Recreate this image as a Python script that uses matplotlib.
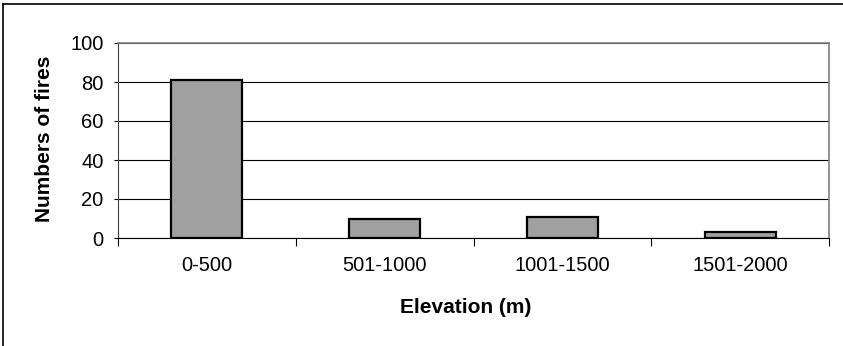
import matplotlib.pyplot as plt
import numpy as np

plt.rcParams['font.family'] = ['Liberation Sans', 'DejaVu Sans']

categories = ['0-500', '501-1000', '1001-1500', '1501-2000']
fires = [81, 10, 11, 3]
yticks = [0, 20, 40, 60, 80, 100]

W, H = 843, 346
fig = plt.figure(figsize=(W / 100, H / 100), dpi=100)

# outer chart frame (top and left edges only)
fig.add_artist(plt.Line2D([3.5 / W, 1], [1 - 4 / H, 1 - 4 / H], color='black', lw=1.2))
fig.add_artist(plt.Line2D([3.5 / W, 3.5 / W], [0, 1 - 4 / H], color='black', lw=1.2))

left, right, top, bottom = 118, 829, 43, 238
ax = fig.add_axes([left / W, 1 - bottom / H, (right - left) / W, (bottom - top) / H])

x = np.arange(len(categories))
ax.bar(x, fires, width=0.4, color='#a0a0a0', edgecolor='black', linewidth=1.6, zorder=3)

ax.set_xlim(-0.5, len(categories) - 0.5)
ax.set_ylim(0, 100)
ax.set_yticks(yticks)
ax.yaxis.grid(True, color='black', lw=0.8, zorder=0)

ax.set_xticks(x)
ax.set_xticklabels(categories, fontsize=14.5)
ax.tick_params(axis='x', length=0, pad=13)
ax.set_xticks(np.arange(len(categories) + 1) - 0.5, minor=True)
ax.tick_params(axis='x', which='minor', length=6, width=0.8, direction='out', color='black')
ax.tick_params(axis='y', labelsize=14.5, length=3, width=0.8, color='black', pad=7.5)

for side in ['top', 'right']:
    ax.spines[side].set_color('#808080')
    ax.spines[side].set_linewidth(1.2)
ax.spines['left'].set_color('#404040')
ax.spines['bottom'].set_color('black')
ax.spines['bottom'].set_zorder(4)

fig.text(45 / W, 1 - 139 / H, 'Numbers of fires', rotation=90, fontsize=15,
         fontweight='bold', ha='center', va='center')
fig.text(466 / W, 1 - 313 / H, 'Elevation (m)', fontsize=15,
         fontweight='bold', ha='center', va='baseline')

fig.savefig('out.png', dpi=100)
